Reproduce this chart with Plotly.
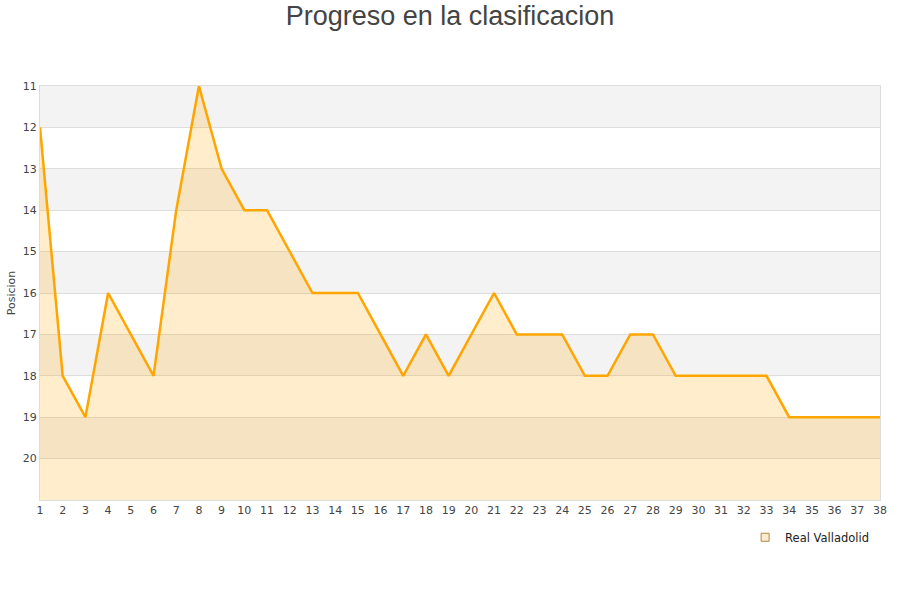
import plotly.graph_objects as go

jornadas = list(range(1, 39))
posiciones = [12, 18, 19, 16, 17, 18, 14, 11, 13, 14, 14, 15, 16, 16, 16, 17, 18, 17, 18, 17,
              16, 17, 17, 17, 18, 18, 17, 17, 18, 18, 18, 18, 18, 19, 19, 19, 19, 19]
y_ticks = list(range(11, 21))
equipo = "Real Valladolid"

fig = go.Figure()
fig.add_trace(go.Scatter(x=jornadas, y=[21] * len(jornadas), mode="lines",
                         line=dict(width=0), showlegend=False, hoverinfo="skip"))
fig.add_trace(go.Scatter(x=jornadas, y=posiciones, mode="lines", fill="tonexty",
                         fillcolor="rgba(255,165,0,0.2)",
                         line=dict(color="#FFA500", width=2.5), showlegend=False, name=equipo))
fig.add_trace(go.Scatter(x=[None], y=[None], mode="markers", name=equipo,
                         marker=dict(symbol="square", size=8, color="#fdeccb",
                                     line=dict(color="#b08850", width=1))))

shapes = []
for lo in range(11, 21, 2):
    shapes.append(dict(type="rect", xref="paper", yref="y", x0=0, x1=1, y0=lo, y1=lo + 1,
                       fillcolor="#f3f3f3", line=dict(width=0), layer="below"))

fig.update_layout(
    width=900, height=600,
    paper_bgcolor="white", plot_bgcolor="white",
    margin=dict(l=40, r=20, t=86, b=100),
    title=dict(text="Progreso en la clasificacion", x=0.5, xanchor="center",
               yref="container", y=1 - 16 / 600, yanchor="middle",
               font=dict(family="Liberation Sans, Arial", size=27, color="#444")),
    shapes=shapes,
    font=dict(family="DejaVu Sans", size=11, color="#444"),
    legend=dict(orientation="h", x=0.993, xanchor="right", y=-0.055, yanchor="top",
                font=dict(size=11.5, color="#222"), bgcolor="rgba(0,0,0,0)",
                itemwidth=30),
    showlegend=True,
)
fig.update_xaxes(range=[1, 38], tickmode="array", tickvals=jornadas, showgrid=False,
                 zeroline=False, showline=True, linecolor="#ddd", mirror=True,
                 ticks="", tickfont=dict(size=11, color="#444"), automargin=False)
fig.update_yaxes(range=[21, 11], tickmode="array", tickvals=y_ticks, showgrid=True,
                 gridcolor="#dddddd", zeroline=False, showline=True, linecolor="#ddd",
                 mirror=True, ticks="", tickfont=dict(size=11, color="#444"), automargin=False,
                 title=dict(text="Posicion", font=dict(size=11, color="#444"), standoff=4))

fig.write_html("out.html", config={"displayModeBar": False},
               post_script="document.body.style.margin='0';")
